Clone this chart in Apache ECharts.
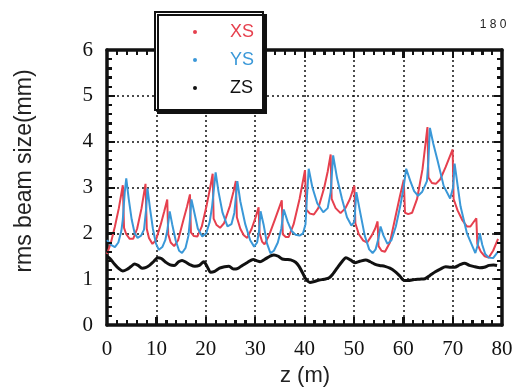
<!DOCTYPE html>
<html>
<head>
<meta charset="utf-8">
<script src="https://cdn.jsdelivr.net/npm/echarts@6/dist/echarts.min.js"></script>
<style>
  html, body { margin: 0; padding: 0; background: #fff; }
  #chart { width: 517px; height: 387px; }
</style>
</head>
<body>
<div id="chart"></div>
<script>
// Beam envelope along the line: horizontal (XS), vertical (YS) and longitudinal (ZS) rms sizes
const seriesNames = ['XS', 'YS', 'ZS'];
const xTickLabels = [0, 10, 20, 30, 40, 50, 60, 70, 80];
const yTickLabels = [0, 1, 2, 3, 4, 5, 6];

const xsZ = [0,0.8,1.6,2.4,3.2,3.45,3.9,4.6,5.3,6.1,7.0,7.8,8.05,8.5,9.2,9.9,10.9,11.6,12.2,12.4,12.9,13.6,14.4,15.5,16.2,16.8,17.0,17.6,18.3,19.2,20.2,20.9,21.4,21.6,22.2,22.9,23.7,24.9,25.6,26.1,26.3,27.0,27.7,28.4,29.3,30.1,30.7,30.9,31.4,31.9,32.8,34.0,35.4,35.6,36.2,36.8,37.8,39.0,40.1,40.35,41.1,41.9,42.8,44.0,44.7,45.3,45.5,46.3,47.3,48.3,49.2,50.1,50.3,51.0,51.9,52.7,53.6,54.3,54.8,55.0,55.6,56.3,57.3,58.4,59.3,60.1,60.35,61.0,61.8,62.8,63.9,64.9,65.1,65.8,66.6,67.5,68.6,70.0,70.2,71.0,72.0,72.9,73.6,74.8,75.0,75.7,76.5,77.3,78.2,79.2];
const xsSize = [1.55,1.8,2.15,2.55,3.05,2.12,1.98,1.88,1.88,2.1,2.55,3.08,2.1,1.9,1.77,1.85,2.2,2.48,2.74,1.98,1.8,1.72,1.85,2.3,2.58,2.85,2.02,1.94,1.93,2.15,2.62,3.0,3.3,2.32,2.18,2.12,2.22,2.6,2.9,3.14,2.35,2.1,1.96,1.9,2.1,2.35,2.57,2.0,1.82,1.76,1.95,2.3,2.72,1.98,1.92,1.92,2.2,2.75,3.38,2.52,2.43,2.41,2.55,3.0,3.35,3.72,2.75,2.55,2.44,2.55,2.75,3.04,2.22,1.98,1.84,1.8,1.95,2.1,2.26,1.72,1.62,1.6,1.8,2.35,2.8,3.17,2.45,2.42,2.45,2.75,3.4,4.32,3.22,3.1,3.08,3.18,3.45,3.83,2.75,2.5,2.28,2.15,2.15,2.33,1.77,1.6,1.5,1.47,1.62,1.88];

const ysZ = [0,0.8,1.6,2.3,2.9,3.2,3.6,3.9,4.4,5.0,5.6,6.2,6.9,7.5,7.9,8.2,8.7,9.3,9.9,10.5,11.2,11.8,12.2,12.7,13.2,13.9,14.6,15.2,15.9,16.5,16.8,17.1,17.6,18.4,19.3,20.1,20.8,21.3,22.0,22.6,23.4,24.4,25.2,25.8,26.4,27.0,28.0,29.0,29.8,30.4,30.8,31.1,31.7,32.4,33.1,33.8,34.6,35.3,35.8,36.6,37.4,38.2,39.0,39.7,40.2,40.5,40.85,41.6,42.6,43.8,44.7,45.3,45.8,46.6,47.6,48.6,49.5,50.1,50.5,51.2,52.2,53.1,53.8,54.4,55.0,55.4,56.0,56.8,57.6,58.5,59.4,60.0,60.6,61.4,62.2,63.0,63.8,64.8,65.1,65.4,66.1,66.9,68.2,69.5,69.9,70.1,70.4,71.6,72.9,74.6,75.1,75.5,76.0,76.6,77.3,78.2,79.2];
const ysSize = [1.85,1.75,1.7,1.8,2.05,2.3,2.9,3.2,2.75,2.3,2.0,1.9,1.95,2.08,2.5,2.98,2.55,2.1,1.78,1.64,1.7,1.85,2.05,2.48,2.2,1.85,1.62,1.57,1.68,1.95,2.3,2.74,2.5,2.1,1.93,2.0,2.25,2.6,3.33,2.9,2.45,2.15,2.2,2.45,3.14,2.7,2.2,1.85,1.71,1.8,2.05,2.48,2.2,1.78,1.57,1.62,1.8,2.1,2.52,2.25,2.05,1.97,1.95,2.0,2.2,2.8,3.41,3.0,2.65,2.46,2.55,2.9,3.7,3.2,2.75,2.35,2.17,2.25,2.9,2.5,1.95,1.65,1.57,1.65,1.9,2.15,1.95,1.77,1.85,2.15,2.6,2.95,3.41,3.15,2.92,2.82,2.9,3.14,3.6,4.3,3.95,3.61,3.03,2.76,2.72,3.0,3.52,2.59,2.0,1.57,1.75,2.0,1.75,1.55,1.47,1.46,1.6];

const zsZ = [0,0.6,1.5,2.3,3.2,4.0,4.8,5.6,6.3,7.1,7.8,8.6,9.4,10.3,11.0,11.9,12.8,13.6,14.5,15.2,16.0,16.9,17.8,18.7,19.6,20.3,21.0,21.8,22.8,23.8,24.7,25.6,26.4,27.4,28.5,29.6,30.4,31.0,31.9,33.0,33.8,34.7,35.5,36.4,37.2,38.2,38.9,39.6,40.3,41.1,42.0,43.0,44.0,45.0,45.8,46.6,47.5,48.4,49.3,50.2,51.2,52.4,53.3,54.2,55.2,56.3,57.3,58.3,59.3,60.2,61.0,62.2,63.3,64.4,65.4,66.5,67.5,68.6,69.6,70.4,71.4,72.4,73.4,74.5,75.5,76.4,77.4,78.3,79.0];
const zsSize = [1.5,1.45,1.33,1.24,1.18,1.21,1.27,1.33,1.3,1.24,1.25,1.3,1.38,1.47,1.45,1.37,1.31,1.3,1.38,1.41,1.37,1.31,1.28,1.3,1.38,1.27,1.15,1.17,1.24,1.27,1.28,1.22,1.23,1.3,1.37,1.43,1.4,1.38,1.43,1.5,1.53,1.5,1.44,1.43,1.42,1.37,1.28,1.14,1.0,0.93,0.95,0.98,1.0,1.03,1.12,1.24,1.37,1.47,1.42,1.36,1.39,1.42,1.38,1.33,1.3,1.28,1.24,1.17,1.07,0.97,0.97,0.99,1.0,1.01,1.08,1.16,1.22,1.27,1.26,1.26,1.31,1.35,1.3,1.27,1.25,1.26,1.3,1.31,1.3];

const colors = { XS: '#e6404e', YS: '#3a98d8', ZS: '#111111' };

function pairs(zs, vals) { return zs.map((z, i) => [z, vals[i]]); }

const xMin = xTickLabels[0], xMax = xTickLabels[xTickLabels.length - 1];
const yMin = yTickLabels[0], yMax = yTickLabels[yTickLabels.length - 1];
const xStep = xTickLabels[1] - xTickLabels[0];
const yStep = yTickLabels[1] - yTickLabels[0];
const minorSplit = 5;

// Frame ticks (inside, on all four sides): [side 0 = z axis / 1 = size axis, value, major flag]
const frameTicks = [];
for (let i = 0; i <= (xMax - xMin) / xStep * minorSplit; i++) {
  frameTicks.push([0, xMin + i * xStep / minorSplit, i % minorSplit === 0 ? 1 : 0]);
}
for (let i = 0; i <= (yMax - yMin) / yStep * minorSplit; i++) {
  frameTicks.push([1, yMin + i * yStep / minorSplit, i % minorSplit === 0 ? 1 : 0]);
}

function renderFrameTick(params, api) {
  const side = api.value(0), v = api.value(1), major = api.value(2);
  const len = major ? 8 : 5;
  const cs = params.coordSys;
  const style = { stroke: '#111', lineWidth: 2 };
  if (side === 0) {
    const px = Math.round(api.coord([v, yMin])[0]);
    const yb = cs.y + cs.height, yt = cs.y;
    return { type: 'group', children: [
      { type: 'line', shape: { x1: px, y1: yb, x2: px, y2: yb - len }, style: style },
      { type: 'line', shape: { x1: px, y1: yt, x2: px, y2: yt + len }, style: style }
    ] };
  }
  const py = Math.round(api.coord([xMin, v])[1]);
  const xl = cs.x, xr = cs.x + cs.width;
  return { type: 'group', children: [
    { type: 'line', shape: { x1: xl, y1: py, x2: xl + len, y2: py }, style: style },
    { type: 'line', shape: { x1: xr, y1: py, x2: xr - len, y2: py }, style: style }
  ] };
}

function frameAxis(position, min, max, interval, main) {
  return {
    type: 'value', min: min, max: max, interval: interval, position: position,
    axisLine: { show: true, onZero: false, lineStyle: { color: '#111', width: 3.5 } },
    axisTick: { show: true, inside: true, length: 8, lineStyle: { color: '#111', width: 2 } },
    minorTick: { show: true, splitNumber: minorSplit, length: 5, lineStyle: { color: '#111', width: 2 } },
    splitLine: main ? { show: true, lineStyle: { color: '#111', width: 1.5, type: [2, 3] } } : { show: false },
    axisLabel: main ? { margin: 14, fontFamily: 'Liberation Serif', fontSize: 21, color: '#111' } : { show: false }
  };
}

const chart = echarts.init(document.getElementById('chart'));
chart.setOption({
  animation: false,
  backgroundColor: '#fff',
  grid: { left: 107, right: 15, top: 50, bottom: 62 },
  xAxis: [
    frameAxis('bottom', xMin, xMax, xStep, true),
    frameAxis('top', xMin, xMax, xStep, false)
  ],
  yAxis: [
    frameAxis('left', yMin, yMax, yStep, true),
    frameAxis('right', yMin, yMax, yStep, false)
  ],
  legend: {
    orient: 'vertical', left: 155, top: 12,
    padding: [10, 9, 12, 38], itemGap: 8, itemWidth: 4, itemHeight: 4, icon: 'circle',
    backgroundColor: '#fff', borderColor: '#111', borderWidth: 2,
    shadowColor: '#111', shadowBlur: 0, shadowOffsetX: 3, shadowOffsetY: 3,
    textStyle: { fontFamily: 'Liberation Sans', fontSize: 18, lineHeight: 20, padding: [0, 0, 0, 28] },
    data: seriesNames.map(n => ({ name: n, textStyle: { color: colors[n] } }))
  },
  graphic: [
    { type: 'text', x: 25, y: 171, rotation: Math.PI / 2,
      style: { text: 'rms beam size(mm)', font: '23px "Liberation Sans"', fill: '#222', align: 'center', verticalAlign: 'middle' } },
    { type: 'text', x: 305, y: 376,
      style: { text: 'z (m)', font: '22px "Liberation Sans"', fill: '#222', align: 'center', verticalAlign: 'middle' } },
    { type: 'text', x: 493, y: 25,
      style: { text: '1 8 0', font: '12px "Liberation Sans"', fill: '#222', align: 'center', verticalAlign: 'middle' } }
  ],
  series: [
    { name: 'XS', type: 'line', data: pairs(xsZ, xsSize), showSymbol: false,
      itemStyle: { color: colors.XS }, lineStyle: { color: colors.XS, width: 2 }, z: 3 },
    { name: 'YS', type: 'line', data: pairs(ysZ, ysSize), showSymbol: false,
      itemStyle: { color: colors.YS }, lineStyle: { color: colors.YS, width: 2 }, z: 3 },
    { name: 'ZS', type: 'line', data: pairs(zsZ, zsSize), showSymbol: false, smooth: 0.3,
      itemStyle: { color: colors.ZS }, lineStyle: { color: colors.ZS, width: 3 }, z: 3 },
    { name: 'frame ticks', type: 'custom', data: frameTicks, renderItem: renderFrameTick,
      silent: true, z: 3.5, clip: false, tooltip: { show: false } }
  ]
});
</script>
</body>
</html>
